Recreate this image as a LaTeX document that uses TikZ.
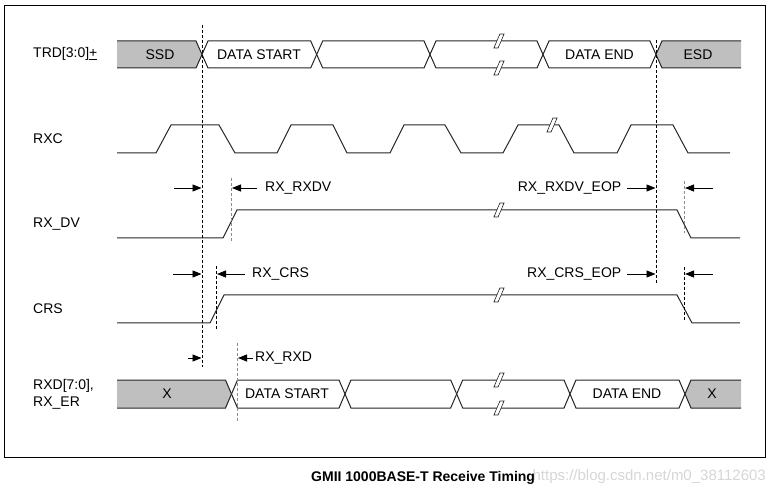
\documentclass[tikz,border=0pt]{standalone}
\usepackage{fontspec}
\setmainfont{Liberation Sans}
\usetikzlibrary{arrows.meta}
\begin{document}
\begin{tikzpicture}[x=1pt,y=-1pt,
  sig/.style={line width=1pt, draw=black!85, line join=miter},
  greyfill/.style={fill=black!25},
  txt/.style={font=\fontsize{14}{16}\selectfont, inner sep=0pt},
  lbl/.style={txt, anchor=west},
  vdash/.style={line width=0.9pt, dash pattern=on 3pt off 2pt, draw=black},
  gdash/.style={vdash, draw=black!45},
  dimarrow/.style={line width=0.9pt, -{Triangle[length=9pt,width=7pt]}},
  brk/.style={line width=0.8pt, draw=black!80, fill=white},
]
\useasboundingbox (0,0) rectangle (774,494);
\draw[line width=1pt] (4,6) rectangle (765,457);

% ---------- signal names ----------
\node[lbl] (ltrd) at (33,54) {TRD[3:0]\underline{+}};
\node[lbl] (lrxc) at (33,139) {RXC};
\node[lbl] (lrxdv) at (33,224) {RX\_DV};
\node[lbl] (lcrs) at (33,309) {CRS};
\node[lbl] (lrxd) at (33,386) {RXD[7:0],};
\node[lbl] (lrxer) at (33,403) {RX\_ER};

% ---------- TRD bus ----------
\fill[greyfill] (117,41) -- (196,41) -- (202,54.5) -- (196,68) -- (117,68) -- cycle;
\draw[sig] (117,41) -- (196,41) -- (202,54.5) -- (196,68) -- (117,68);
\foreach \a/\b in {202/316.7, 316.7/430, 430/543, 543/656}
  \draw[sig, fill=white] (\a,54.5) -- (\a+6,41) -- (\b-6,41) -- (\b,54.5) -- (\b-6,68) -- (\a+6,68) -- cycle;
\fill[greyfill] (741,41) -- (662,41) -- (656,54.5) -- (662,68) -- (741,68) -- cycle;
\draw[sig] (741,41) -- (662,41) -- (656,54.5) -- (662,68) -- (741,68);
\node[txt] (ssd) at (160,54.5) {SSD};
\node[txt] (ds1) at (259,54.5) {DATA START};
\node[txt] (de1) at (599.5,54.5) {DATA END};
\node[txt] (esd) at (698,54.5) {ESD};

% ---------- RXC ----------
\draw[sig] (117,153) -- (156,153) -- (171,125) -- (219,125) -- (235,153) -- (277,153) -- (291,125)
  -- (333,125) -- (347,153) -- (390,153) -- (404,125) -- (445,125) -- (461,153) -- (503,153)
  -- (518,125) -- (559,125) -- (574,153) -- (617,153) -- (631,125) -- (673,125) -- (688,153) -- (730,153);

% ---------- RX_DV ----------
\draw[sig] (117,238) -- (223,238) -- (237,210) -- (677,210) -- (691,238) -- (740,238);

% ---------- CRS ----------
\draw[sig] (117,323) -- (210,323) -- (224,295) -- (677,295) -- (692,323) -- (740,323);

% ---------- RXD bus ----------
\fill[greyfill] (117,380) -- (225.5,380) -- (231.5,394) -- (225.5,408) -- (117,408) -- cycle;
\draw[sig] (117,380) -- (225.5,380) -- (231.5,394) -- (225.5,408) -- (117,408);
\foreach \a/\b in {231.5/345, 345/456.7, 456.7/570, 570/685}
  \draw[sig, fill=white] (\a,394) -- (\a+6,380) -- (\b-6,380) -- (\b,394) -- (\b-6,408) -- (\a+6,408) -- cycle;
\fill[greyfill] (741,380) -- (691,380) -- (685,394) -- (691,408) -- (741,408) -- cycle;
\draw[sig] (741,380) -- (691,380) -- (685,394) -- (691,408) -- (741,408);
\node[txt] (x1) at (167,394) {X};
\node[txt] (ds2) at (287,394) {DATA START};
\node[txt] (de2) at (627,394) {DATA END};
\node[txt] (x2) at (712,394) {X};

% ---------- break marks ----------
\foreach \x/\y in {500/41, 500/68, 553/125, 500/210, 500/295, 500/380, 500/408}
  \draw[brk] (\x-6,\y+7) -- (\x,\y-7) -- (\x+4,\y-7) -- (\x-2,\y+7) -- cycle;
\foreach \x/\y in {500/41, 500/68, 553/125, 500/210, 500/295, 500/380, 500/408}
  \fill[white] (\x-4.6,\y+5) -- (\x-0.4,\y-5) -- (\x+2.6,\y-5) -- (\x-1.6,\y+5) -- cycle;

% ---------- reference lines ----------
\coordinate (r1t) at (202,25);  \coordinate (r1b) at (202,367);
\coordinate (r2t) at (656,40);  \coordinate (r2b) at (656,283);
\draw[vdash] (r1t) -- (r1b);
\draw[vdash] (r2t) -- (r2b);
\draw[gdash] (231.5,178) -- (231.5,242);
\draw[gdash] (684.5,181) -- (684.5,233);
\draw[vdash] (216.5,266) -- (216.5,330);
\draw[vdash] (684.5,267) -- (684.5,321);
\draw[gdash] (237.5,343) -- (237.5,422);

% ---------- timing arrows ----------
\coordinate (a1s) at (174,188); \coordinate (a1e) at (201.5,188);
\coordinate (a2s) at (257,188); \coordinate (a2e) at (232,188);
\coordinate (a3s) at (627,188); \coordinate (a3e) at (655.5,188);
\coordinate (a4s) at (713,188); \coordinate (a4e) at (685,188);
\draw[dimarrow] (a1s) -- (a1e);
\draw[dimarrow] (a2s) -- (a2e);
\draw[dimarrow] (a3s) -- (a3e);
\draw[dimarrow] (a4s) -- (a4e);
\node[lbl] (trxdv) at (265,188) {RX\_RXDV};
\node[txt, anchor=east] (trxdveop) at (621.5,188) {RX\_RXDV\_EOP};

\coordinate (b1s) at (173,274); \coordinate (b1e) at (201.5,274);
\coordinate (b2s) at (245,274); \coordinate (b2e) at (217,274);
\coordinate (b3s) at (627,274); \coordinate (b3e) at (655.5,274);
\coordinate (b4s) at (713,274); \coordinate (b4e) at (685,274);
\draw[dimarrow] (b1s) -- (b1e);
\draw[dimarrow] (b2s) -- (b2e);
\draw[dimarrow] (b3s) -- (b3e);
\draw[dimarrow] (b4s) -- (b4e);
\node[lbl] (tcrs) at (252,274) {RX\_CRS};
\node[txt, anchor=east] (tcrseop) at (621.5,274) {RX\_CRS\_EOP};

\coordinate (c1s) at (188,358); \coordinate (c1e) at (201.5,358);
\coordinate (c2s) at (253,358); \coordinate (c2e) at (238,358);
\draw[dimarrow] (c1s) -- (c1e);
\draw[dimarrow] (c2s) -- (c2e);
\node[lbl] (trxd) at (255,358) {RX\_RXD};

% ---------- caption ----------
\node[font=\fontsize{15}{17}\selectfont, text=black!16, inner sep=0pt, anchor=east] (url) at (766,477) {https://blog.csdn.net/m0\_38112603};
\node[font=\bfseries\fontsize{14}{16}\selectfont, inner sep=0pt, anchor=west] (cap) at (311,478) {GMII 1000BASE-T Receive Timing};
\end{tikzpicture}
\end{document}
